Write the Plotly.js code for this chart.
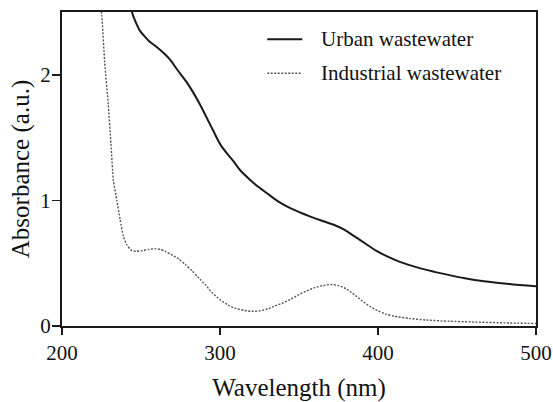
<!DOCTYPE html>
<html>
<head>
<meta charset="utf-8">
<script src="https://cdn.plot.ly/plotly-3.0.1.min.js"></script>
<style>html,body{margin:0;padding:0;background:#fff;}#chart{width:553px;height:402px;}</style>
</head>
<body>
<div id="chart"></div>
<script>
// Series names
const seriesNames = ["Urban wastewater", "Industrial wastewater"];

// Urban wastewater (solid)
const urbanX = [243.5, 244.5, 247, 249.4, 252, 255, 258.5, 262, 265, 268.4, 273, 279, 283, 287.5, 291.5, 295.9, 300, 304, 308.6, 312.8, 319.1, 324, 329.7, 337, 344.5, 351, 357.2, 364, 371.9, 378.3, 385, 393.1, 399, 405.8, 413, 422.6, 432, 443.8, 455, 467, 483, 500];
const urbanY = [2.56, 2.49, 2.41, 2.35, 2.31, 2.27, 2.235, 2.2, 2.165, 2.12, 2.04, 1.94, 1.86, 1.76, 1.66, 1.55, 1.45, 1.38, 1.31, 1.24, 1.163, 1.11, 1.057, 0.99, 0.938, 0.902, 0.871, 0.84, 0.806, 0.77, 0.715, 0.647, 0.598, 0.554, 0.515, 0.475, 0.443, 0.409, 0.38, 0.356, 0.334, 0.316];

// Industrial wastewater (dotted)
const industrialX = [224.3, 225.2, 227, 229.3, 231, 232.5, 234.7, 236.8, 238.9, 241, 244.2, 247, 250.5, 255, 259, 262, 265.3, 269, 273.7, 278, 282.2, 286, 290.6, 295, 300, 305, 310, 315, 320, 325, 330, 335, 340, 345, 350, 355, 360, 365, 370, 375, 380, 385, 390, 395, 400, 405, 410, 420, 430, 445, 460, 480, 500];
const industrialY = [2.56, 2.47, 2.1, 1.76, 1.45, 1.16, 1.0, 0.845, 0.713, 0.647, 0.60, 0.595, 0.60, 0.61, 0.615, 0.61, 0.595, 0.57, 0.535, 0.49, 0.44, 0.39, 0.33, 0.265, 0.21, 0.168, 0.14, 0.125, 0.117, 0.12, 0.135, 0.16, 0.185, 0.215, 0.25, 0.28, 0.305, 0.322, 0.33, 0.322, 0.295, 0.25, 0.2, 0.155, 0.12, 0.095, 0.078, 0.06, 0.048, 0.038, 0.032, 0.025, 0.02];

// Axis ticks
const xTicks = [200, 300, 400, 500];
const yTicks = [0, 1, 2];

const fontFam = 'Liberation Serif';
const ink = '#111';
const dotDash = '2px,1.5px';

const traces = [
  {x: urbanX, y: urbanY, name: seriesNames[0], mode: 'lines',
   line: {color: '#1a1a1a', width: 2, shape: 'spline', smoothing: 0.8}, showlegend: false},
  {x: industrialX, y: industrialY, name: seriesNames[1], mode: 'lines',
   line: {color: '#555', width: 1.4, dash: dotDash, shape: 'spline', smoothing: 0.6}, showlegend: false}
];

const legendRows = [0.913, 0.805];
const shapes = [
  {type: 'line', xref: 'paper', yref: 'paper', x0: 0.433, x1: 0.507, y0: legendRows[0], y1: legendRows[0],
   line: {color: '#1a1a1a', width: 2}},
  {type: 'line', xref: 'paper', yref: 'paper', x0: 0.433, x1: 0.507, y0: legendRows[1], y1: legendRows[1],
   line: {color: '#555', width: 1.4, dash: dotDash}}
];
const annotations = seriesNames.map((n, i) => ({
  text: n, xref: 'paper', yref: 'paper', x: 0.543, y: legendRows[i],
  xanchor: 'left', yanchor: 'middle', showarrow: false,
  font: {family: fontFam, size: 21, color: ink}
}));

const layout = {
  width: 553, height: 402,
  margin: {l: 62, r: 17, t: 12, b: 75.5},
  paper_bgcolor: '#fff', plot_bgcolor: '#fff',
  font: {family: fontFam, color: ink},
  showlegend: false,
  xaxis: {
    range: [200, 500], tickvals: xTicks, ticktext: xTicks.map(String),
    showgrid: false, zeroline: false, showline: true, linecolor: '#1a1a1a', linewidth: 2,
    mirror: true, ticks: 'outside', ticklen: 7, tickwidth: 1.5, tickcolor: '#1a1a1a',
    tickfont: {family: fontFam, size: 21, color: ink},
    title: {text: 'Wavelength (nm)', font: {family: fontFam, size: 25, color: ink}, standoff: 14}
  },
  yaxis: {
    range: [0, 2.5], tickvals: yTicks, ticktext: yTicks.map(String),
    showgrid: false, zeroline: false, showline: true, linecolor: '#1a1a1a', linewidth: 2,
    mirror: true, ticks: 'outside', ticklen: 8, tickwidth: 1.5, tickcolor: '#1a1a1a',
    tickfont: {family: fontFam, size: 21, color: ink}, ticklabelstandoff: -3,
    title: {text: 'Absorbance (a.u.)', font: {family: fontFam, size: 25, color: ink}, standoff: 4}
  },
  shapes: shapes,
  annotations: annotations
};

Plotly.newPlot('chart', traces, layout, {staticPlot: true, displayModeBar: false});
</script>
</body>
</html>
